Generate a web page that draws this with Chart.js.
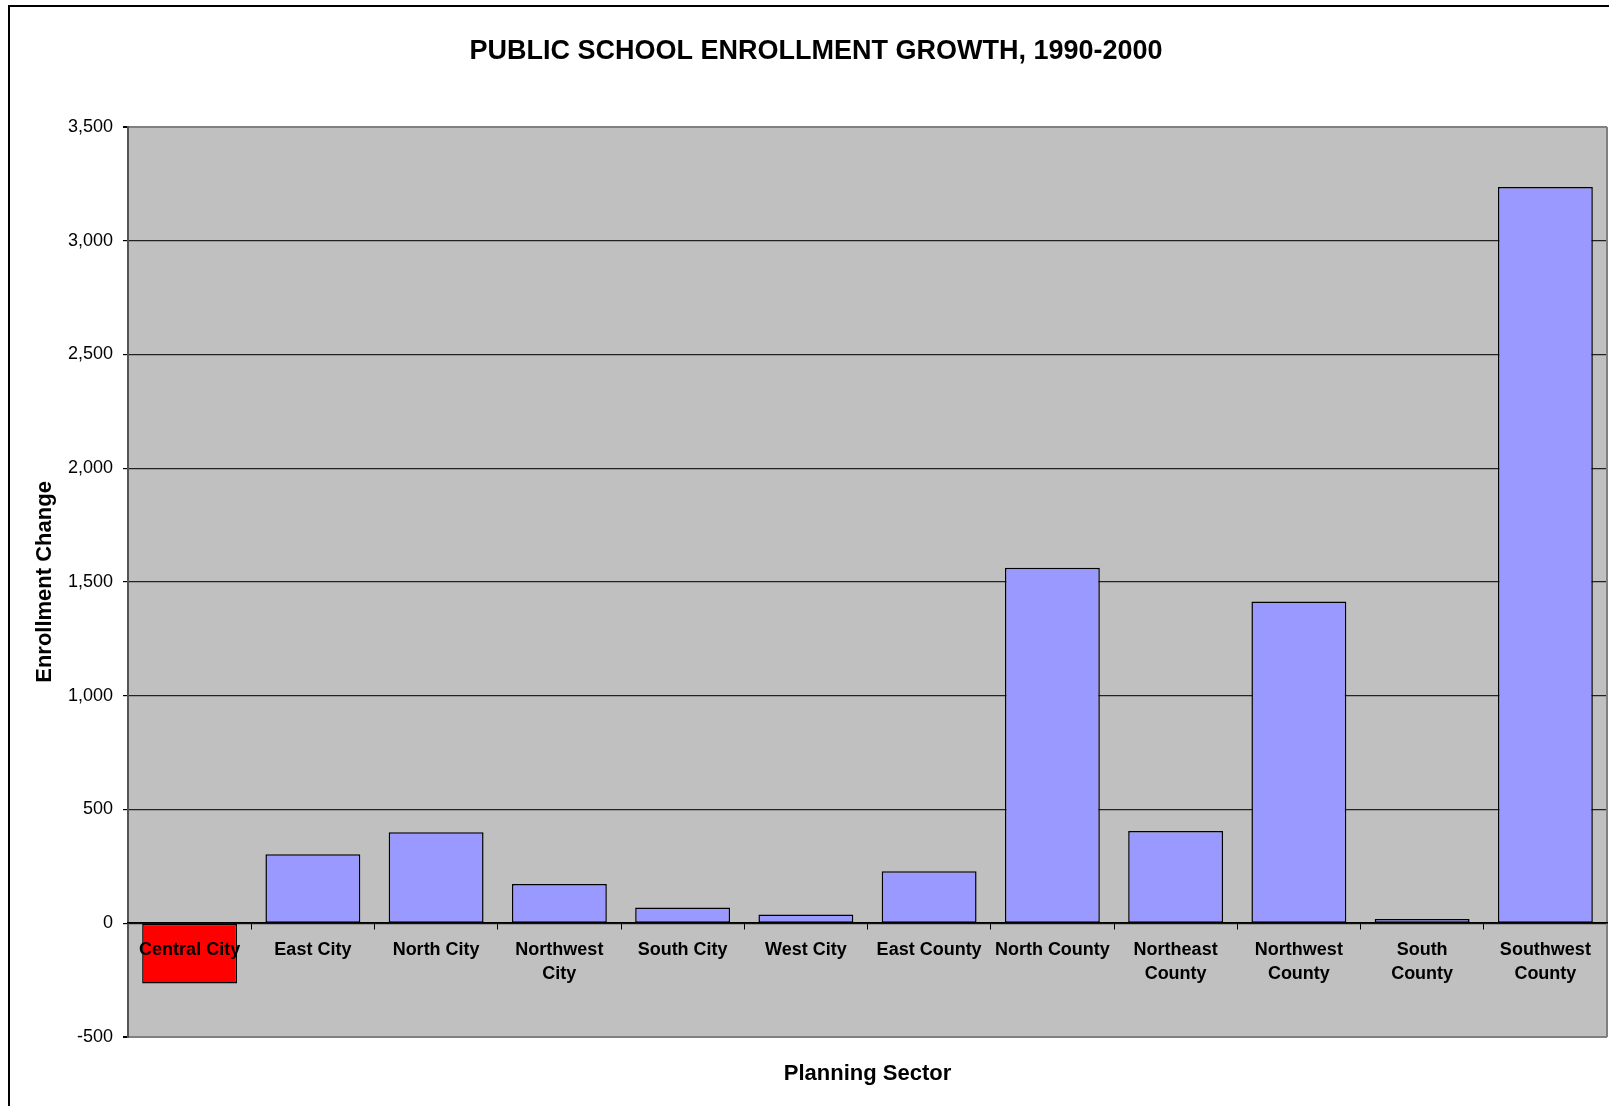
<!DOCTYPE html>
<html>
<head>
<meta charset="utf-8">
<script src="https://cdn.jsdelivr.net/npm/chart.js@4.4.0/dist/chart.umd.min.js"></script>
<style>
  html, body { margin: 0; padding: 0; background: #fff; overflow: hidden; width: 1609px; height: 1106px; }
  #frame { position: absolute; left: 8px; top: 5px; border: 2px solid #000; width: 1630px; height: 1100px; }
  canvas { display: block; }
</style>
</head>
<body>
<div id="frame"><canvas id="enrollChart" width="1630" height="1100"></canvas></div>
<script>
/* Public school enrollment growth by planning sector */
const SECTORS = [
  'Central City', 'East City', 'North City', ['Northwest', 'City'], 'South City', 'West City',
  'East County', 'North County', ['Northeast', 'County'], ['Northwest', 'County'], ['South', 'County'], ['Southwest', 'County'],
];
const ENROLLMENT_CHANGE = [-265, 303, 400, 172, 69, 38, 228, 1562, 405, 1414, 19, 3236];
const Y_MIN = -500;
const Y_MAX = 3500;
const Y_STEP = 500;

const FONT = "'Liberation Sans', Arial, sans-serif";
const BAR_BLUE = '#9999ff';
const BAR_RED = '#ff0000';

const plotBackground = {
  id: 'plotBackground',
  beforeDraw(chart) {
    const { ctx, chartArea: a } = chart;
    ctx.save();
    ctx.fillStyle = '#c0c0c0';
    ctx.fillRect(a.left, a.top, a.right - a.left, a.bottom - a.top);
    ctx.restore();
  },
  beforeDatasetsDraw(chart) {
    const { ctx, chartArea: a } = chart;
    ctx.save();
    ctx.strokeStyle = '#808080';
    ctx.lineWidth = 2;
    ctx.beginPath();
    ctx.moveTo(a.right, a.top);
    ctx.lineTo(a.right, a.bottom);
    ctx.stroke();
    ctx.restore();
  },
};

const isEdge = v => v === Y_MIN || v === Y_MAX;

new Chart(document.getElementById('enrollChart').getContext('2d'), {
  type: 'bar',
  data: {
    labels: SECTORS,
    datasets: [{
      label: 'Enrollment Change',
      data: ENROLLMENT_CHANGE,
      backgroundColor: ENROLLMENT_CHANGE.map(v => v < 0 ? BAR_RED : BAR_BLUE),
      borderColor: '#000',
      borderWidth: 1.5,
      borderSkipped: false,
      categoryPercentage: 1,
      barPercentage: 0.77,
    }],
  },
  options: {
    responsive: false,
    animation: false,
    devicePixelRatio: 1,
    // left padding balances the title over the (partly cropped) chart frame
    layout: { padding: { left: 15, right: 33, top: 0, bottom: 0 } },
    plugins: {
      legend: { display: false },
      tooltip: { enabled: false },
      title: {
        display: true,
        text: 'PUBLIC SCHOOL ENROLLMENT GROWTH, 1990-2000',
        color: '#000',
        font: { family: FONT, size: 27, weight: 'bold', lineHeight: 1.2 },
        padding: { top: 28.5, bottom: 59 },
      },
    },
    scales: {
      x: {
        type: 'category',
        position: { y: 0 },
        offset: true,
        grid: { display: true, offset: true, drawOnChartArea: false, drawTicks: true, tickLength: 6, color: '#000', lineWidth: 1 },
        border: { display: true, color: '#000', width: 1.5, z: 1 },
        ticks: {
          z: 1,
          color: '#000',
          padding: 9,
          maxRotation: 0,
          autoSkip: false,
          font: { family: FONT, size: 18, weight: 'bold', lineHeight: 1.33 },
        },
      },
      x2: {
        type: 'category',
        position: 'bottom',
        grid: { display: false, drawTicks: false },
        border: { display: false },
        ticks: { display: false },
        title: {
          display: true,
          text: 'Planning Sector',
          color: '#000',
          font: { family: FONT, size: 22, weight: 'bold', lineHeight: 1.2 },
          padding: { top: 0, bottom: 20 },
        },
        afterFit: s => { s.height = 70; },
      },
      y: {
        min: Y_MIN,
        max: Y_MAX,
        grid: {
          color: c => (c.tick && isEdge(c.tick.value)) ? '#808080' : '#222',
          lineWidth: c => (c.tick && isEdge(c.tick.value)) ? 2 : 1.2,
          tickColor: '#000',
          tickLength: 5,
          drawTicks: true,
        },
        border: { display: true, color: '#555', width: 2 },
        ticks: {
          stepSize: Y_STEP,
          color: '#000',
          padding: 10,
          font: { family: FONT, size: 18 },
          callback: v => v.toLocaleString('en-US'),
        },
        title: {
          display: true,
          text: 'Enrollment Change',
          color: '#000',
          font: { family: FONT, size: 22, weight: 'bold', lineHeight: 1.2 },
          padding: { top: 7, bottom: 0 },
        },
        afterFit: s => { s.width = 103; },
      },
    },
  },
  plugins: [plotBackground],
});
</script>
</body>
</html>
